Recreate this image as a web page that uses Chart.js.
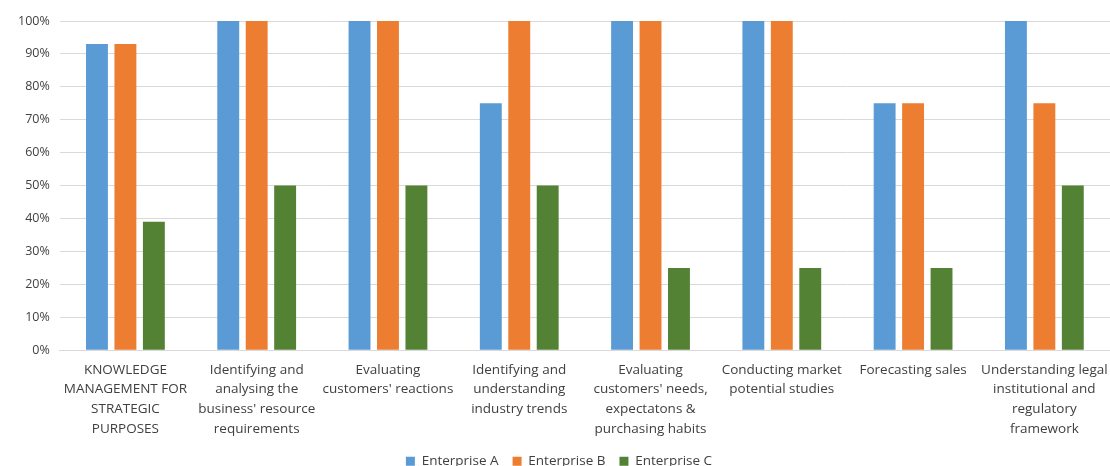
<!DOCTYPE html>
<html><head><meta charset="utf-8">
<script src="https://cdn.jsdelivr.net/npm/chart.js@4.4.1/dist/chart.umd.min.js"></script>
<style>html,body{margin:0;padding:0;background:#fff;}#wrap{width:1110px;height:466px;}</style>
</head><body><div id="wrap"><canvas id="c"></canvas></div>
<script>
const categories = [
  ["KNOWLEDGE","MANAGEMENT FOR","STRATEGIC","PURPOSES"],
  ["Identifying and","analysing the","business' resource","requirements"],
  ["Evaluating","customers' reactions"],
  ["Identifying and","understanding","industry trends"],
  ["Evaluating","customers' needs,","expectatons &","purchasing habits"],
  ["Conducting market","potential studies"],
  ["Forecasting sales"],
  ["Understanding legal","institutional and","regulatory","framework"]
];
const enterpriseA = [93, 100, 100, 75, 100, 100, 75, 100];
const enterpriseB = [93, 100, 100, 100, 100, 100, 75, 75];
const enterpriseC = [39, 50, 50, 50, 25, 25, 25, 50];
const yTicks = [0,10,20,30,40,50,60,70,80,90,100];

Chart.defaults.font.family = "'Open Sans', 'Liberation Sans', sans-serif";
Chart.defaults.color = '#595959';
new Chart(document.getElementById('c'), {
  type: 'bar',
  data: {
    labels: categories,
    datasets: [
      {label:'Enterprise A', data: enterpriseA, backgroundColor:'#5B9BD5'},
      {label:'Enterprise B', data: enterpriseB, backgroundColor:'#ED7D31'},
      {label:'Enterprise C', data: enterpriseC, backgroundColor:'#548235'}
    ]
  },
  options: {
    responsive: true, maintainAspectRatio: false, animation: false,
    datasets: {bar: {categoryPercentage: 0.65, barPercentage: 0.77}},
    layout: {padding: {top: 21, left: 8, right: 0, bottom: -12}},
    plugins: {
      legend: {position:'bottom', labels:{boxWidth:9, boxHeight:9, font:{size:13.5}, padding:14, color:'#404040'}},
      tooltip: {enabled:false}
    },
    scales: {
      x: {
        grid: {display:false},
        border: {color:'#d9d9d9'},
        ticks: {maxRotation:0, minRotation:0, autoSkip:false, font:{size:13.5, lineHeight:1.45}, padding:2, color:'#404040'}
      },
      y: {
        min: 0, max: 100,
        afterBuildTicks: (ax) => { ax.ticks = yTicks.map(v => ({value:v})); },
        grid: {color:'#d9d9d9', drawTicks:false},
        border: {display:false},
        ticks: {callback: v => v + '%', font:{size:12.5}, padding:10, color:'#404040'}
      }
    }
  }
});
</script></body></html>
